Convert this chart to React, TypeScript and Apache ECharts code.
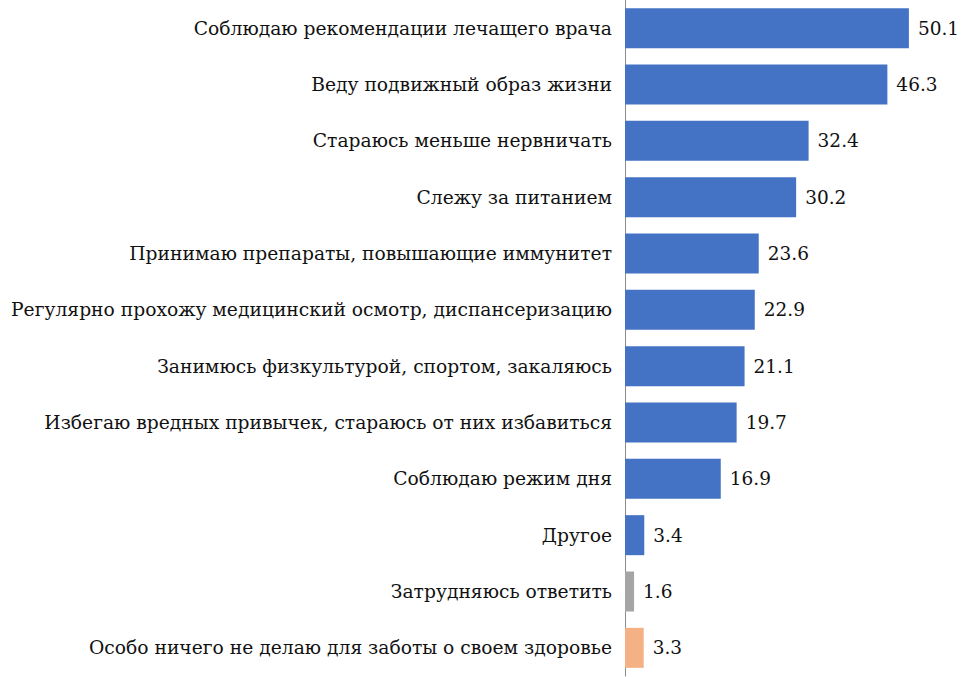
import React, { useEffect, useRef } from "react";
import * as echarts from "echarts";

const categories = [
  "Соблюдаю рекомендации лечащего врача",
  "Веду подвижный образ жизни",
  "Стараюсь меньше нервничать",
  "Слежу за питанием",
  "Принимаю препараты, повышающие иммунитет",
  "Регулярно прохожу медицинский осмотр, диспансеризацию",
  "Занимюсь физкультурой, спортом, закаляюсь",
  "Избегаю вредных привычек, стараюсь от них избавиться",
  "Соблюдаю режим дня",
  "Другое",
  "Затрудняюсь ответить",
  "Особо ничего не делаю для заботы о своем здоровье",
];
const values = [50.1, 46.3, 32.4, 30.2, 23.6, 22.9, 21.1, 19.7, 16.9, 3.4, 1.6, 3.3];
const barColors = [
  "#4472C4", "#4472C4", "#4472C4", "#4472C4", "#4472C4", "#4472C4",
  "#4472C4", "#4472C4", "#4472C4", "#4472C4", "#A5A5A5", "#F4B183",
];

const FONT = "DejaVu Serif";

export default function App() {
  const ref = useRef<HTMLDivElement>(null);
  useEffect(() => {
    const chart = echarts.init(ref.current!, null, { renderer: "svg" });
    chart.setOption({
      animation: false,
      textStyle: { fontFamily: FONT },
      grid: { left: 625, right: 1, top: 0, bottom: 1, containLabel: false },
      xAxis: {
        type: "value",
        min: 0,
        max: 60,
        show: false,
      },
      yAxis: {
        type: "category",
        data: categories,
        inverse: true,
        axisLine: { show: true, lineStyle: { color: "#8c8c8c", width: 1 } },
        axisTick: { show: false },
        axisLabel: {
          fontFamily: FONT,
          fontSize: 18.7,
          color: "#111111",
          margin: 13,
        },
      },
      series: [
        {
          type: "bar",
          barWidth: 40,
          data: values.map((v, i) => ({ value: v, itemStyle: { color: barColors[i] } })),
          label: {
            show: true,
            position: "right",
            distance: 9,
            fontFamily: FONT,
            fontSize: 18.5,
            color: "#111111",
            formatter: (p: any) => p.value.toFixed(1),
          },
        },
      ],
    });
    return () => chart.dispose();
  }, []);
  return <div ref={ref} style={{ width: 966, height: 677, position: "absolute", left: 0, top: 0 }} />;
}
